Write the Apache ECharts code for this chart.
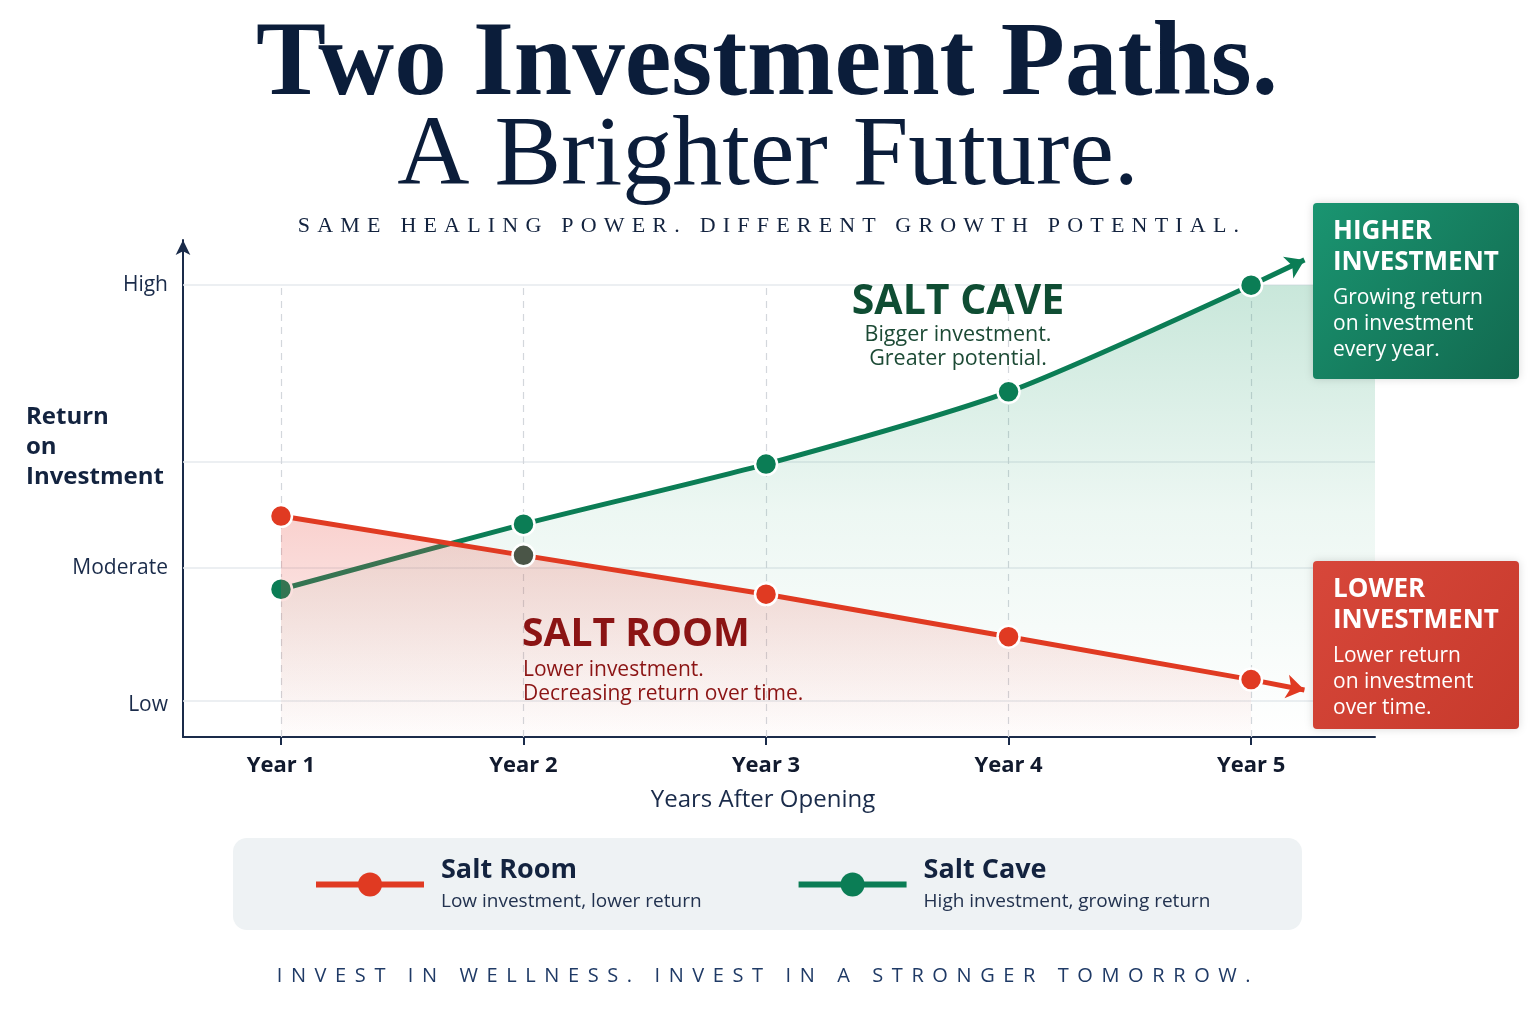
<!DOCTYPE html>
<html>
<head>
<meta charset="utf-8">
<script src="https://cdn.jsdelivr.net/npm/echarts@6/dist/echarts.min.js"></script>
<style>
  html, body { margin: 0; padding: 0; background: #ffffff; }
  #wrap { position: relative; width: 1536px; height: 1024px; }
  #chart { position: absolute; left: 0; top: 0; width: 1536px; height: 1024px; }
  .spaced { position: absolute; left: 0; width: 1536px; text-align: center; white-space: nowrap; }
  #sub { top: 212px; left: 4px; font: 22px "Liberation Serif", serif; letter-spacing: 7.2px; color: #13233f; }
  #foot { top: 961px; font: 20px "Open Sans", sans-serif; letter-spacing: 8.6px; color: #1f3a66; }
</style>
</head>
<body>
<div id="wrap">
  <div id="chart"></div>
  <div id="sub" class="spaced">SAME HEALING POWER. DIFFERENT GROWTH POTENTIAL.</div>
  <div id="foot" class="spaced">INVEST IN WELLNESS. INVEST IN A STRONGER TOMORROW.</div>
</div>
<script>
var chart = echarts.init(document.getElementById('chart'));

// data (0 = axis floor, 100 = "High")
var years = ['Year 1', 'Year 2', 'Year 3', 'Year 4', 'Year 5'];
var yearValues = [1, 2, 3, 4, 5];
var saltRoom = [48.9, 40.2, 31.6, 22.2, 12.7];
var saltCave = [32.7, 47.1, 60.4, 76.4, 100];
var levelNames = ['Low', 'Moderate', 'High'];
var levelValues = [7, 37.5, 100];
var gridValues = [8, 37.5, 61, 100];
var legendNotes = {
    'Salt Room': 'Low investment, lower return',
    'Salt Cave': 'High investment, growing return'
};

var navy = '#13233f';
var red = '#e03a22';
var green = '#0b7d55';
var sans = '"Open Sans", sans-serif';

function pairs(vals) {
    return vals.map(function (v, i) { return [yearValues[i], v]; });
}

function caveFade() {
    return new echarts.graphic.LinearGradient(0, 0, 0, 1, [
        { offset: 0, color: 'rgba(40,160,110,0.36)' },
        { offset: 0.5, color: 'rgba(40,160,110,0.12)' },
        { offset: 1, color: 'rgba(40,160,110,0)' }
    ]);
}

var guideLines = gridValues.map(function (v) {
    return { yAxis: v, lineStyle: { color: '#e6eaee', width: 1.5, type: 'solid' } };
});
yearValues.forEach(function (x) {
    guideLines.push([
        { coord: [x, 0], lineStyle: { color: '#d3d7dc', width: 1.2, type: [7, 6] } },
        { coord: [x, 100] }
    ]);
});

var option = {
    backgroundColor: '#ffffff',
    animation: false,
    grid: { left: 183, right: 161, top: 240, bottom: 287 },
    xAxis: {
        type: 'value',
        min: 0.596,
        max: 5.511,
        splitLine: { show: false },
        axisLine: { lineStyle: { color: '#1a2b4a', width: 2 } },
        axisTick: { customValues: yearValues, length: 8, lineStyle: { color: '#1a2b4a', width: 2 } },
        axisLabel: {
            customValues: yearValues,
            margin: 18,
            fontFamily: sans,
            fontSize: 22,
            fontWeight: 'bold',
            color: '#111a2e',
            formatter: function (v) { return years[yearValues.indexOf(v)] || ''; }
        }
    },
    yAxis: {
        type: 'value',
        min: 0,
        max: 110,
        splitLine: { show: false },
        axisTick: { show: false },
        axisLine: {
            show: true,
            symbol: ['none', 'arrow'],
            symbolSize: [11, 15],
            lineStyle: { color: '#1a2b4a', width: 2 }
        },
        axisLabel: {
            customValues: levelValues,
            margin: 15,
            fontFamily: sans,
            fontSize: 21,
            color: '#1a2b4a',
            formatter: function (v) {
                var i = levelValues.indexOf(v);
                return i < 0 ? '' : levelNames[i];
            }
        }
    },
    legend: {
        data: ['Salt Room', 'Salt Cave'],
        left: 308,
        top: 852,
        itemWidth: 108,
        itemHeight: 30,
        itemGap: 94,
        z: 10,
        lineStyle: { width: 6 },
        itemStyle: { borderWidth: 0 },
        formatter: function (name) {
            return '{n|' + name + '}\n{s|' + legendNotes[name] + '}';
        },
        textStyle: {
            padding: [0, 0, 0, 12],
            rich: {
                n: { fontFamily: sans, fontSize: 27, fontWeight: 'bold', color: navy, lineHeight: 34 },
                s: { fontFamily: sans, fontSize: 19, color: '#22324f', lineHeight: 28 }
            }
        }
    },
    graphic: [
        { type: 'rect', z: 0, shape: { x: 233, y: 838, width: 1069, height: 92, r: 14 }, style: { fill: '#eef2f4' } },
        { type: 'text', style: { x: 767, y: 119, text: 'Two Investment Paths.', fontFamily: '"Liberation Serif", serif', fontSize: 105, fontWeight: 'bold', fill: '#0b1d3a', textAlign: 'center', textVerticalAlign: 'bottom' } },
        { type: 'text', style: { x: 768, y: 208, text: 'A Brighter Future.', fontFamily: '"Liberation Serif", serif', fontSize: 100, fill: '#0b1d3a', textAlign: 'center', textVerticalAlign: 'bottom' } },
        { type: 'text', style: { x: 26, y: 402, text: 'Return\non\nInvestment', fontFamily: sans, fontSize: 24, fontWeight: 'bold', fill: navy, lineHeight: 30 } },
        { type: 'text', style: { x: 763, y: 800, text: 'Years After Opening', fontFamily: sans, fontSize: 24, fill: '#1a2b4a', textAlign: 'center', textVerticalAlign: 'middle' } },

        { type: 'text', z: 5, style: { x: 958, y: 302, text: 'SALT CAVE', fontFamily: sans, fontSize: 41, fontWeight: 'bold', fill: '#0f4d33', textAlign: 'center', textVerticalAlign: 'middle' } },
        { type: 'text', z: 5, style: { x: 958, y: 323, text: 'Bigger investment.\nGreater potential.', fontFamily: sans, fontSize: 21.5, fill: '#1c4a35', textAlign: 'center', lineHeight: 24 } },
        { type: 'text', z: 5, style: { x: 522, y: 635, text: 'SALT ROOM', fontFamily: sans, fontSize: 39, fontWeight: 'bold', fill: '#8b1414', textVerticalAlign: 'middle' } },
        { type: 'text', z: 5, style: { x: 523, y: 658, text: 'Lower investment.\nDecreasing return over time.', fontFamily: sans, fontSize: 21, fill: '#8b1414', lineHeight: 24 } },

        { type: 'rect', z: 20, shape: { x: 1313, y: 203, width: 206, height: 176, r: 4 },
          style: { fill: new echarts.graphic.LinearGradient(0, 0, 1, 1, [{ offset: 0, color: '#1a9571' }, { offset: 1, color: '#12694f' }]), shadowBlur: 8, shadowColor: 'rgba(0,0,0,0.15)' } },
        { type: 'text', z: 21, style: { x: 1333, y: 216, text: 'HIGHER\nINVESTMENT', fontFamily: sans, fontSize: 26, fontWeight: 'bold', fill: '#ffffff', lineHeight: 31 } },
        { type: 'text', z: 21, style: { x: 1333, y: 285, text: 'Growing return\non investment\nevery year.', fontFamily: sans, fontSize: 21, fill: '#ffffff', lineHeight: 26 } },
        { type: 'rect', z: 20, shape: { x: 1313, y: 561, width: 206, height: 168, r: 4 },
          style: { fill: new echarts.graphic.LinearGradient(0, 0, 1, 1, [{ offset: 0, color: '#d7473a' }, { offset: 1, color: '#c73a2c' }]), shadowBlur: 8, shadowColor: 'rgba(0,0,0,0.15)' } },
        { type: 'text', z: 21, style: { x: 1333, y: 574, text: 'LOWER\nINVESTMENT', fontFamily: sans, fontSize: 26, fontWeight: 'bold', fill: '#ffffff', lineHeight: 31 } },
        { type: 'text', z: 21, style: { x: 1333, y: 643, text: 'Lower return\non investment\nover time.', fontFamily: sans, fontSize: 21, fill: '#ffffff', lineHeight: 26 } }
    ],
    series: [
        {
            name: 'guides',
            type: 'line',
            data: [],
            z: 1,
            silent: true,
            markLine: { z: 1, silent: true, symbol: 'none', label: { show: false }, data: guideLines }
        },
        {
            name: 'Salt Cave',
            type: 'line',
            data: pairs(saltCave),
            smooth: 0.25,
            z: 3,
            symbol: 'circle',
            symbolSize: 22,
            itemStyle: { color: green, borderColor: '#ffffff', borderWidth: 2.5 },
            lineStyle: { color: green, width: 5 },
            areaStyle: { color: caveFade(), opacity: 0.7 },
            markArea: {
                z: 2,
                silent: true,
                itemStyle: { color: caveFade(), opacity: 0.7 },
                data: [[{ coord: [5, 100] }, { coord: [5.511, 0] }]]
            },
            markLine: {
                z: 3,
                silent: true,
                symbol: ['none', 'arrow'],
                symbolSize: 18,
                label: { show: false },
                lineStyle: { color: green, width: 5, type: 'solid' },
                data: [[{ coord: [5, 100] }, { coord: [5.22, 105.6] }]]
            }
        },
        {
            name: 'Salt Room',
            type: 'line',
            data: pairs(saltRoom).map(function (p, i) {
                return i === 1 ? { value: p, itemStyle: { color: '#4a5547' } } : p;
            }),
            z: 4,
            symbol: 'circle',
            symbolSize: 22,
            itemStyle: { color: red, borderColor: '#ffffff', borderWidth: 2.5 },
            lineStyle: { color: red, width: 5 },
            areaStyle: {
                color: new echarts.graphic.LinearGradient(0, 0, 0, 1, [
                    { offset: 0, color: 'rgba(232,80,70,0.38)' },
                    { offset: 1, color: 'rgba(232,80,70,0.02)' }
                ])
            },
            markLine: {
                z: 4,
                silent: true,
                symbol: ['none', 'arrow'],
                symbolSize: 18,
                label: { show: false },
                lineStyle: { color: red, width: 5, type: 'solid' },
                data: [[{ coord: [5, 12.7] }, { coord: [5.22, 10.4] }]]
            }
        }
    ]
};
chart.setOption(option);
</script>
</body>
</html>
